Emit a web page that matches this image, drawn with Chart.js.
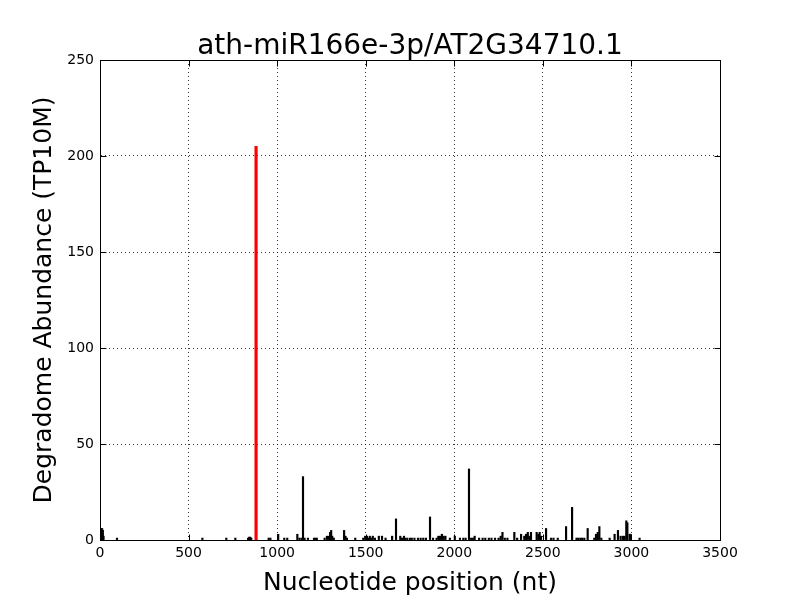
<!DOCTYPE html>
<html>
<head>
<meta charset="utf-8">
<script src="https://cdn.jsdelivr.net/npm/chart.js@4/dist/chart.umd.min.js"></script>
<style>
  html, body { margin: 0; padding: 0; background: #fff; }
  #wrap { width: 800px; height: 600px; }
</style>
</head>
<body>
<div id="wrap"><canvas id="degradome" width="800" height="600"></canvas></div>
<script>
/* ---- data ---- */
const titleText  = 'ath-miR166e-3p/AT2G34710.1';
const xLabelText = 'Nucleotide position (nt)';
const yLabelText = 'Degradome Abundance (TP10M)';

const xTicks = [0, 500, 1000, 1500, 2000, 2500, 3000, 3500];
const yTicks = [0, 50, 100, 150, 200, 250];

/* background degradome tags (black) */
const tagPos = [
  5, 9, 12, 16, 20, 96, 578, 713, 764, 836, 842, 848, 854, 952, 962, 1006, 1040, 1057,
  1114, 1126, 1138, 1146, 1155, 1174, 1208, 1216, 1224, 1268, 1281, 1292, 1299, 1305,
  1311, 1320, 1378, 1386, 1394, 1441, 1486, 1497, 1507, 1515, 1523, 1531, 1540, 1552,
  1574, 1592, 1612, 1649, 1671, 1695, 1705, 1716, 1724, 1735, 1750, 1760, 1775, 1795,
  1810, 1825, 1840, 1863, 1880, 1900, 1910, 1920, 1930, 1940, 1950, 1975, 2003, 2032,
  2051, 2064, 2083, 2095, 2105, 2115, 2140, 2160, 2175, 2195, 2210, 2230, 2250, 2262,
  2272, 2285, 2300, 2339, 2355, 2377, 2395, 2405, 2415, 2425, 2433, 2465, 2475, 2482,
  2490, 2518, 2546, 2560, 2584, 2631, 2665, 2690, 2700, 2712, 2722, 2734, 2753, 2790,
  2800, 2810, 2819, 2830, 2877, 2905, 2924, 2939, 2952, 2961, 2971, 2977, 2990, 2995, 3046
];
const tagVal = [
  6, 3, 6, 5, 2, 1, 1, 1, 1, 1, 1.5, 1.5, 1, 1, 1, 3, 1, 1,
  3, 1, 1, 33, 1, 1, 1, 1, 1, 1, 2, 2, 4, 5,
  2, 1, 5, 2, 1, 1, 1, 2, 2, 1, 2, 1, 2, 1,
  2, 2, 1, 2, 11, 2, 1, 2, 1, 1, 1, 1, 1, 1,
  1, 1, 1, 12, 1, 1, 2, 2, 3, 2, 2, 1, 2, 1,
  1, 1, 37, 1, 1, 2, 1, 1, 1, 1, 1, 1, 1, 2,
  4, 1, 1, 4, 1, 3, 2, 3, 4, 2, 4, 4, 3, 4,
  2, 6, 1, 1, 1, 7, 17, 1, 1, 1, 1, 1, 6, 1,
  3, 4, 7, 1, 1, 3, 5, 2, 2, 2, 10, 9, 3, 3, 1
];

/* miRNA cleavage site (red) */
const sitePos = [881];
const siteVal = [205];

/* ---- helpers ---- */
const FONT = "'DejaVu Sans', sans-serif";

function toPoints(xs, ys) {
  return xs.map((x, i) => ({ x, y: ys[i] }));
}

/* frame + inward ticks + title / axis labels, matplotlib style */
const mplFrame = {
  id: 'mplFrame',
  afterDraw(chart) {
    const { ctx, chartArea: a, scales } = chart;
    const L = Math.round(a.left) + 0.5, R = Math.round(a.right) + 0.5;
    const T = Math.round(a.top) + 0.5,  B = Math.round(a.bottom) + 0.5;
    const tick = 6;

    ctx.save();
    ctx.strokeStyle = '#000';
    ctx.lineWidth = 1;
    ctx.strokeRect(L, T, R - L, B - T);

    ctx.beginPath();
    xTicks.forEach(v => {
      const px = Math.round(scales.x.getPixelForValue(v)) + 0.5;
      ctx.moveTo(px, B); ctx.lineTo(px, B - tick);
      ctx.moveTo(px, T); ctx.lineTo(px, T + tick);
    });
    yTicks.forEach(v => {
      const py = Math.round(scales.y.getPixelForValue(v)) + 0.5;
      ctx.moveTo(L, py); ctx.lineTo(L + tick, py);
      ctx.moveTo(R, py); ctx.lineTo(R - tick, py);
    });
    ctx.stroke();

    ctx.fillStyle = '#000';
    ctx.textAlign = 'center';
    ctx.textBaseline = 'alphabetic';
    ctx.font = '28px ' + FONT;
    ctx.fillText(titleText, (a.left + a.right) / 2, 54);

    ctx.font = '25px ' + FONT;
    ctx.fillText(xLabelText, (a.left + a.right) / 2, 590);

    ctx.translate(51, (a.top + a.bottom) / 2);
    ctx.rotate(-Math.PI / 2);
    ctx.fillText(yLabelText, 0, 0);
    ctx.restore();
  }
};

new Chart(document.getElementById('degradome'), {
  type: 'bar',
  data: {
    datasets: [
      {
        label: 'tags',
        data: toPoints(tagPos, tagVal),
        backgroundColor: '#000',
        barThickness: 1.5,
      },
      {
        label: 'cleavage site',
        data: toPoints(sitePos, siteVal),
        backgroundColor: '#ff0000',
        barThickness: 2.5,
      },
    ],
  },
  options: {
    responsive: false,
    animation: false,
    grouped: false,
    layout: { padding: { top: 60, right: 80, left: 0, bottom: 0 } },
    plugins: {
      legend : { display: false },
      title  : { display: false },
      tooltip: { enabled: false },
    },
    scales: {
      x: {
        type: 'linear',
        min: 0,
        max: 3500,
        offset: false,
        afterFit: s => { s.height = 60; },
        afterBuildTicks: s => { s.ticks = xTicks.map(v => ({ value: v })); },
        grid  : { color: '#000', lineWidth: 0.8, drawTicks: false, offset: false },
        border: { display: true, color: '#000', width: 1, dash: [1, 3] },
        ticks : { color: '#000', font: { family: FONT, size: 14 }, padding: 5, maxRotation: 0,
                  callback: v => String(v) },
      },
      y: {
        min: 0,
        max: 250,
        afterFit: s => { s.width = 100; },
        afterBuildTicks: s => { s.ticks = yTicks.map(v => ({ value: v })); },
        grid  : { color: '#000', lineWidth: 0.8, drawTicks: false },
        border: { display: true, color: '#000', width: 1, dash: [1, 3] },
        ticks : { color: '#000', font: { family: FONT, size: 14 }, padding: 6,
                  callback: v => String(v) },
      },
    },
  },
  plugins: [mplFrame],
});
</script>
</body>
</html>
